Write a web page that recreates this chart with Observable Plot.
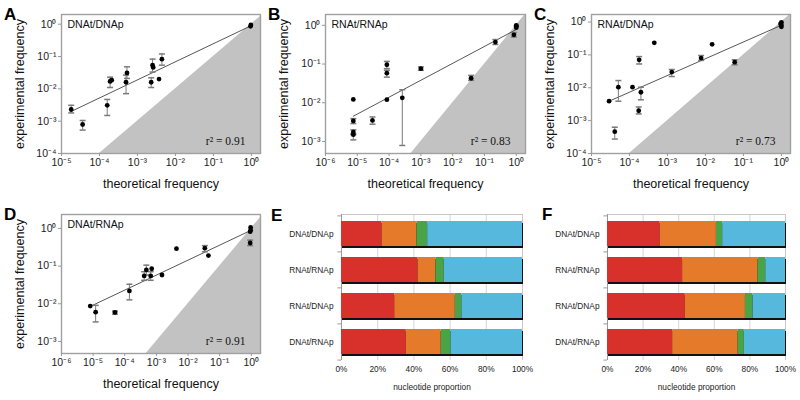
<!DOCTYPE html>
<html><head><meta charset="utf-8">
<script src="https://cdn.jsdelivr.net/npm/d3@7"></script>
<script src="https://cdn.jsdelivr.net/npm/@observablehq/plot@0.6"></script>
<style>
html,body{margin:0;padding:0;background:#fff;}
#root{position:relative;width:800px;height:400px;overflow:hidden;font-family:"Liberation Sans",Arial,sans-serif;}
.panel{position:absolute;}
.letter{position:absolute;font-weight:bold;font-size:17px;line-height:17px;color:#000;}
</style></head><body><div id="root"></div>
<script>
// ---------- Panel A: DNAt/DNAp ----------
const A_theo = [1.8e-5, 3.6e-5, 1.6e-4, 1.9e-4, 2.1e-4, 5.0e-4, 5.3e-4, 2.3e-3, 2.5e-3, 2.6e-3, 3.7e-3, 4.4e-3, 0.95, 0.97];
const A_exp  = [2.3e-3, 7.9e-4, 3.1e-3, 1.7e-2, 1.85e-2, 1.6e-2, 3.1e-2, 1.6e-2, 5.4e-2, 4.6e-2, 2.0e-2, 8.3e-2, 0.86, 0.95];
const A_lo   = [1.8e-3, 5.3e-4, 1.5e-3, 1.1e-2, null, 7.1e-3, 2.1e-2, 1.1e-2, 3.3e-2, null, null, 5.4e-2, null, null];
const A_hi   = [3.1e-3, 1.05e-3, 4.7e-3, 2.3e-2, null, 2.66e-2, 4.8e-2, 2.2e-2, 8.3e-2, null, null, 1.2e-1, null, null];
const A_regX = [1.8e-5, 0.95];
const A_regY = [2.0e-3, 0.88];

// ---------- Panel B: RNAt/RNAp ----------
const B_theo = [7.5e-6, 7.5e-6, 7.5e-6, 7.5e-6, 3.0e-5, 8.5e-5, 8.5e-5, 8.5e-5, 2.6e-4, 1.0e-3, 0.038, 0.22, 0.84, 1, 1, 1];
const B_exp  = [1.22e-2, 3.4e-3, 1.75e-3, 1.5e-3, 3.5e-3, 0.096, 0.058, 0.012, 0.0134, 0.076, 0.043, 0.37, 0.57, 1.0, 0.87, 0.95];
const B_lo   = [null, 2.9e-3, 1.5e-3, 1.1e-3, 2.8e-3, 0.076, 0.046, null, 7.9e-4, 0.069, 0.038, 0.32, 0.5, null, null, null];
const B_hi   = [null, 3.9e-3, 2.0e-3, 1.6e-3, 4.3e-3, 0.117, 0.069, null, 0.0217, 0.084, 0.051, 0.43, 0.65, null, null, null];
const B_regX = [7.5e-6, 1];
const B_regY = [4.5e-3, 0.78];

// ---------- Panel C: RNAt/DNAp ----------
const C_theo = [2.9e-5, 4.1e-5, 5.1e-5, 1.2e-4, 1.8e-4, 1.75e-4, 2.0e-4, 4.5e-4, 1.3e-3, 7.7e-3, 0.015, 0.059, 1, 1, 1, 0.95];
const C_exp  = [3.9e-3, 4.6e-4, 0.0104, 0.0104, 0.071, 2.0e-3, 7.3e-3, 0.233, 0.030, 0.080, 0.21, 0.060, 0.98, 0.82, 0.72, 0.88];
const C_lo   = [null, 2.75e-4, 3.9e-3, null, 0.053, 1.6e-3, 4.3e-3, null, 0.022, 0.068, null, 0.05, null, null, null, null];
const C_hi   = [null, 6.3e-4, 0.0166, null, 0.089, 2.6e-3, 0.0104, null, 0.036, 0.096, null, 0.071, null, null, null, null];
const C_regX = [2.9e-5, 1];
const C_regY = [3.9e-3, 0.8];

// ---------- Panel D: DNAt/RNAp ----------
const D_theo = [8.1e-6, 1.2e-5, 4.9e-5, 1.4e-4, 4.1e-4, 4.8e-4, 6.6e-4, 7.1e-4, 1.5e-3, 4.3e-3, 0.034, 0.044, 0.95, 0.95, 0.92, 0.92];
const D_exp  = [8.7e-3, 6.0e-3, 5.9e-3, 0.022, 0.055, 0.079, 0.055, 0.085, 0.058, 0.29, 0.30, 0.19, 1.06, 0.9, 0.82, 0.41];
const D_lo   = [null, 3.3e-3, 5.3e-3, 0.0127, 0.042, 0.058, 0.042, null, null, null, 0.24, null, null, null, null, 0.35];
const D_hi   = [null, 9.1e-3, 6.4e-3, 0.033, 0.071, 0.106, 0.071, null, null, null, 0.35, null, null, null, null, 0.49];
const D_regX = [8.1e-6, 1];
const D_regY = [8.5e-3, 0.9];

// tick values
const ticks5 = [1e-5, 1e-4, 1e-3, 1e-2, 1e-1, 1];
const ticks6 = [1e-6, 1e-5, 1e-4, 1e-3, 1e-2, 1e-1, 1];
const ticksY4 = [1e-4, 1e-3, 1e-2, 1e-1, 1];
const ticksY3 = [1e-3, 1e-2, 1e-1, 1];

// ---------- Panels E / F: nucleotide proportions (%) ----------
const pairs = ["DNAt/DNAp", "RNAt/RNAp", "RNAt/DNAp", "DNAt/RNAp"];
const nucleotideKeys = ["n1", "n2", "n3", "n4"];
const nucleotideColors = ["#d8302a", "#e57a2b", "#48a447", "#56b8dc"];
const E_red    = [22.4, 42.3, 29.4, 35.8];
const E_orange = [19.3, 9.9, 33.5, 19.3];
const E_green  = [5.9, 4.6, 3.6, 5.4];
const E_blue   = [52.4, 43.2, 33.5, 39.5];
const F_red    = [29.6, 42.2, 43.7, 36.6];
const F_orange = [31.6, 42.4, 33.8, 36.8];
const F_green  = [3.5, 4.3, 4.3, 3.5];
const F_blue   = [35.3, 11.1, 18.2, 23.1];
const pctTicks = [0, 20, 40, 60, 80, 100];

const SUP = {"-":"\u207B","0":"\u2070","1":"\u00B9","2":"\u00B2","3":"\u00B3","4":"\u2074","5":"\u2075","6":"\u2076","7":"\u2077","8":"\u2078","9":"\u2079"};
const fmtPow = v => "10" + String(Math.round(Math.log10(v))).split("").map(c => SUP[c]).join("");
const cap = {draw(ctx) { ctx.moveTo(-3, 0); ctx.lineTo(3, 0); }};
const FONT = "Liberation Sans, Arial, sans-serif";

function scatter(o) {
  const pts = o.x.map((v, i) => ({x: v, y: o.y[i], lo: o.lo[i], hi: o.hi[i]}));
  const errs = pts.filter(d => d.lo != null);
  const reg = o.regX.map((v, i) => ({x: v, y: o.regY[i]}));
  const yd = o.yDomain, xd = o.xDomain;
  const tri = [{x: yd[0]}, {x: Math.max(xd[1], yd[1]) * 3}];
  return Plot.plot({
    width: o.width, height: o.height,
    marginLeft: o.ml, marginRight: o.mr, marginTop: o.mt, marginBottom: o.mb,
    x: {type: "log", domain: xd},
    y: {type: "log", domain: yd},
    style: {fontFamily: FONT, background: "transparent", overflow: "visible", color: "#222"},
    marks: [
      Plot.areaY(tri, {x: "x", y1: () => yd[0], y2: "x", fill: "#c2c2c2", clip: true}),
      Plot.line(reg, {x: "x", y: "y", stroke: "#444", strokeWidth: 0.9}),
      Plot.ruleX(errs, {x: "x", y1: "lo", y2: "hi", stroke: "#7a7a7a", strokeWidth: 1}),
      Plot.dot(errs, {x: "x", y: "lo", symbol: cap, stroke: "#7a7a7a", fill: "none"}),
      Plot.dot(errs, {x: "x", y: "hi", symbol: cap, stroke: "#7a7a7a", fill: "none"}),
      Plot.dot(pts, {x: "x", y: "y", r: 2.4, fill: "#000"}),
      Plot.frame({stroke: "#a0a0a0", strokeWidth: 1.4}),
      Plot.axisX({ticks: o.xTicks, tickFormat: fmtPow, tickSize: 3, tickPadding: 2, fontSize: 10.5, label: null, stroke: "#999"}),
      Plot.axisY({ticks: o.yTicks, tickFormat: fmtPow, tickSize: 3, tickPadding: 2, fontSize: 10.5, label: null, stroke: "#999"}),
      Plot.text([o.name], {frameAnchor: "top-left", dx: 6, dy: 6, fontSize: 10.5, fill: "#111"}),
      Plot.text([o.r2], {frameAnchor: "bottom-right", dx: -15, dy: -9, fontSize: 11.5, fill: "#111", fontFamily: "Liberation Serif, Times New Roman, serif"}),
      Plot.text(["theoretical frequency"], {frameAnchor: "bottom", dy: 34, fontSize: 12.5, fill: "#111"}),
      Plot.text(["experimental frequency"], {frameAnchor: "left", dx: -42, rotate: -90, textAnchor: "middle", lineAnchor: "middle", fontSize: 12.5, fill: "#111"})
    ]
  });
}

function bars(o) {
  const rows = [];
  pairs.forEach((c, i) => nucleotideKeys.forEach((n, j) => rows.push({cat: c, nt: n, v: o.series[j][i]})));
  const half = 18.1; // half a band step, for the separator ticks
  return Plot.plot({
    width: o.width, height: o.height,
    marginLeft: o.ml, marginRight: o.mr, marginTop: o.mt, marginBottom: o.mb,
    x: {domain: [0, 100]},
    y: {domain: pairs, paddingInner: 0.31, paddingOuter: 0.17},
    color: {domain: nucleotideKeys, range: nucleotideColors},
    style: {fontFamily: FONT, background: "transparent", overflow: "visible", color: "#222"},
    marks: [
      Plot.ruleX(pctTicks.slice(1, 5), {stroke: "#d6d6d6"}),
      Plot.frame({anchor: "top", stroke: "#c8c8c8"}),
      Plot.ruleX([100], {stroke: "#c8c8c8"}),
      Plot.ruleX([0], {stroke: "#9a9a9a"}),
      Plot.ruleY(pairs, {y: d => d, x1: -2, x2: 0, dy: -half, stroke: "#9a9a9a"}),
      Plot.ruleY(pairs.slice(-1), {y: d => d, x1: -2, x2: 0, dy: half, stroke: "#9a9a9a"}),
      Plot.barX(pairs, {x1: 0, x2: 100, y: d => d, fill: "#111", dx: 1, dy: 2}),
      Plot.barX(rows, Plot.stackX({x: "v", y: "cat", fill: "nt"})),
      Plot.axisX({ticks: pctTicks, tickFormat: d => d + "%", fontSize: 8.3, tickSize: 0, tickPadding: 6, label: null}),
      Plot.axisY({fontSize: 8.3, tickSize: 0, tickPadding: 8, label: null}),
      Plot.text(["nucleotide proportion"], {frameAnchor: "bottom", dy: 29, fontSize: 8.3})
    ]
  });
}

const root = document.getElementById("root");
function place(node, left, top) {
  const d = document.createElement("div");
  d.className = "panel"; d.style.left = left + "px"; d.style.top = top + "px";
  d.appendChild(node); root.appendChild(d);
}
function letter(t, left, top) {
  const d = document.createElement("div");
  d.className = "letter"; d.textContent = t; d.style.left = left + "px"; d.style.top = top + "px";
  root.appendChild(d);
}

place(scatter({x: A_theo, y: A_exp, lo: A_lo, hi: A_hi, regX: A_regX, regY: A_regY,
  xDomain: [1e-5, Math.pow(10, 0.24)], yDomain: [1e-4, Math.pow(10, 0.3)], xTicks: ticks5, yTicks: ticksY4,
  name: "DNAt/DNAp", r2: "r\u00B2 = 0.91", width: 268, height: 200, ml: 61, mr: 8, mt: 14, mb: 47}), 0, 0);
place(scatter({x: B_theo, y: B_exp, lo: B_lo, hi: B_hi, regX: B_regX, regY: B_regY,
  xDomain: [1e-6, Math.pow(10, 0.29)], yDomain: [Math.pow(10, -3.31), Math.pow(10, 0.28)], xTicks: ticks6, yTicks: ticksY3,
  name: "RNAt/RNAp", r2: "r\u00B2 = 0.83", width: 268, height: 200, ml: 60, mr: 8, mt: 14, mb: 47}), 265, 0);
place(scatter({x: C_theo, y: C_exp, lo: C_lo, hi: C_hi, regX: C_regX, regY: C_regY,
  xDomain: [1e-5, Math.pow(10, 0.24)], yDomain: [1e-4, Math.pow(10, 0.23)], xTicks: ticks5, yTicks: ticksY4,
  name: "RNAt/DNAp", r2: "r\u00B2 = 0.73", width: 270, height: 200, ml: 61, mr: 10, mt: 14, mb: 47}), 530, 0);
place(scatter({x: D_theo, y: D_exp, lo: D_lo, hi: D_hi, regX: D_regX, regY: D_regY,
  xDomain: [1e-6, Math.pow(10, 0.29)], yDomain: [Math.pow(10, -3.32), Math.pow(10, 0.37)], xTicks: ticks6, yTicks: ticksY3,
  name: "DNAt/RNAp", r2: "r\u00B2 = 0.91", width: 268, height: 200, ml: 61, mr: 8, mt: 14, mb: 47}), 0, 200);
place(bars({series: [E_red, E_orange, E_green, E_blue], width: 265, height: 200, ml: 76, mr: 8, mt: 14, mb: 40}), 265, 200);
place(bars({series: [F_red, F_orange, F_green, F_blue], width: 270, height: 200, ml: 77, mr: 15, mt: 14, mb: 40}), 530, 200);

letter("A", 4, 6);
letter("B", 268, 6);
letter("C", 534, 6);
letter("D", 4, 206);
letter("E", 271, 207);
letter("F", 542, 206);
</script></body></html>
